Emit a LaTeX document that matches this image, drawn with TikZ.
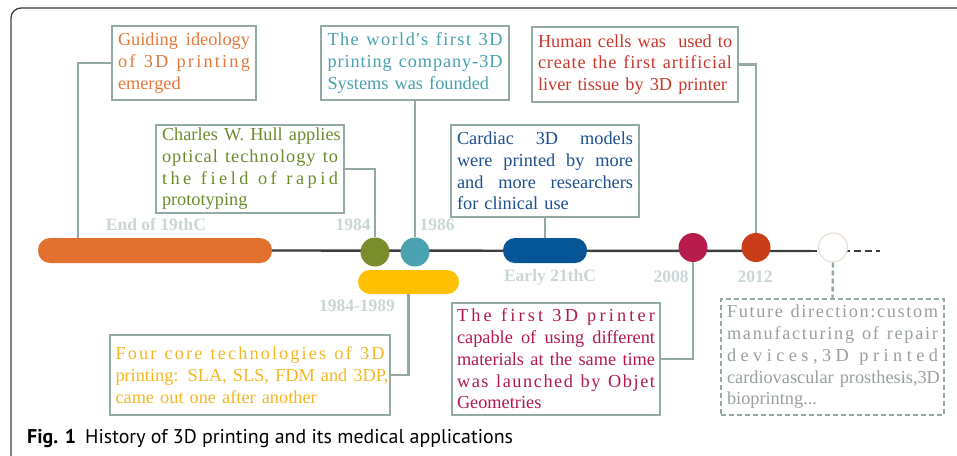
\documentclass[tikz,border=0pt]{standalone}
\usepackage{fontspec}
\setmainfont{Liberation Serif}
\newfontfamily\capfont{PT Sans}
\usetikzlibrary{calc,backgrounds}
\definecolor{boxc}{HTML}{93A9A4}
\definecolor{framec}{HTML}{3C3C3C}
\definecolor{lblc}{HTML}{CAD6D6}
\definecolor{orangeb}{HTML}{E2702E}
\definecolor{greenb}{HTML}{7A8C2C}
\definecolor{tealb}{HTML}{4BA2B0}
\definecolor{yellowb}{HTML}{FFC000}
\definecolor{blueb}{HTML}{065596}
\definecolor{magb}{HTML}{B71C4D}
\definecolor{redb}{HTML}{C83C17}
\definecolor{futc}{HTML}{EADBCF}
\definecolor{orangeT}{HTML}{E2783A}
\definecolor{greenT}{HTML}{6D8A2B}
\definecolor{tealT}{HTML}{47A0AE}
\definecolor{blueT}{HTML}{1D4F8E}
\definecolor{redT}{HTML}{C8382D}
\definecolor{yellowT}{HTML}{F4B722}
\definecolor{magT}{HTML}{B3174F}
\definecolor{grayT}{HTML}{98A09F}
\ExplSyntaxOn
\seq_new:N \l__rs_words_seq
\cs_new_protected:Npn \rs_spread:n #1
  {
    \seq_set_split:Nnn \l__rs_words_seq { ~ } {#1}
    \seq_map_indexed_inline:Nn \l__rs_words_seq
      {
        \int_compare:nNnT {##1} > {1} { \c_space_tl }
        \tl_map_inline:nn {##2} { ####1 \hfil }
      }
    \unskip
  }
\cs_new_protected:Npn \rs_words:n #1
  {
    \seq_set_split:Nnn \l__rs_words_seq { ~ } {#1}
    \seq_use:Nn \l__rs_words_seq { \c_space_tl \hfil }
  }
\NewDocumentCommand \lsline { m } { \noindent\makebox[\hsize][s]{ \rs_spread:n {#1} } }
\NewDocumentCommand \wdline { m } { \noindent\makebox[\hsize][s]{ \rs_words:n {#1} } }
\ExplSyntaxOff
\newcommand\boxfont{\fontsize{18.3}{21.7}\selectfont}
\newcommand\lblfont{\fontsize{17.5}{20}\selectfont\bfseries}
\begin{document}
\begin{tikzpicture}[x=1pt,y=-1pt,
  tbox/.style={draw=boxc, line width=2.8pt, inner sep=0pt, align=left, font=\boxfont},
  bar/.style={rounded corners=12pt, inner sep=0pt, minimum height=25pt},
  dot/.style={circle, minimum size=29pt, inner sep=0pt},
  lbl/.style={text=lblc, font=\lblfont, inner sep=0pt},
  conn/.style={draw=boxc, line width=2.6pt},
  tline/.style={draw=framec, line width=2.4pt}]
\useasboundingbox (0,0) rectangle (957,455);
% frame
\draw[framec, line width=1.3pt, rounded corners=10pt] (11,458) -- (11,8) -- (960,8);
% bars and dots
\node[bar, fill=orangeb, minimum width=234pt] (orange) at (155,250.5) {};
\node[bar, fill=yellowb, minimum width=101pt, minimum height=24pt] (yellow) at (408.5,282) {};
\node[bar, fill=blueb, minimum width=84pt] (blue) at (545,250.5) {};
\node[dot, fill=greenb] (green) at (375,252) {};
\node[dot, fill=tealb] (teal) at (415,252) {};
\node[dot, fill=magb] (mag) at (693,247.5) {};
\node[dot, fill=redb] (red) at (756,247.5) {};
\node[dot, draw=futc, line width=1pt, fill=white] (fut) at (833,247.5) {};
\coordinate (t1) at (810,251);
\coordinate (t2) at (880,251);
\begin{scope}[on background layer]
\draw[tline] (orange.east) -- (t1);
\draw[tline, dash pattern=on 7pt off 4pt] (t1) -- (t2);
\end{scope}
% date labels
\node[lbl] (l19) at (156,224) {End of 19thC};
\node[lbl] (l84) at (353,225) {1984};
\node[lbl] (l86) at (437,225) {1986};
\node[lbl] (l8489) at (357,306) {1984-1989};
\node[lbl] (l21) at (550,277) {Early 21thC};
\node[lbl] (l08) at (671,277) {2008};
\node[lbl] (l12) at (755,277) {2012};
% boxes
\node[tbox, text=orangeT, minimum width=144pt, minimum height=74pt, text width=132pt] (guide) at (184,63)
  {\wdline{Guiding ideology}\\\lsline{of 3D printing}\\emerged};
\node[tbox, text=greenT, minimum width=188pt, minimum height=88pt, text width=176pt] (charles) at (250,169)
  {\wdline{Charles W. Hull applies}\\\lsline{optical technology to}\\\lsline{the field of rapid}\\prototyping};
\node[tbox, text=tealT, minimum width=188pt, minimum height=74pt, text width=175pt] (world) at (415,63)
  {\lsline{The world\textquotesingle s first 3D}\\\lsline{printing company-3D}\\Systems was founded};
\node[tbox, text=blueT, minimum width=188pt, minimum height=92pt, text width=176pt] (cardiac) at (545,171)
  {\wdline{Cardiac 3D models}\\\wdline{were printed by more}\\\wdline{and more researchers}\\for clinical use};
\node[tbox, text=redT, minimum width=206pt, minimum height=75pt, text width=194pt] (human) at (635,64.5)
  {\wdline{Human cells was \ used to}\\\lsline{create the first artificial}\\liver tissue by 3D printer};
\node[tbox, text=yellowT, minimum width=280pt, minimum height=80pt, text width=269pt] (four) at (250,375)
  {\lsline{Four core technologies of 3D}\\\wdline{printing: SLA, SLS, FDM and 3DP,}\\came out one after another};
\node[tbox, text=magT, minimum width=208pt, minimum height=112pt, text width=198pt] (first) at (556,359)
  {\lsline{The first 3D printer}\\\wdline{capable of using different}\\\wdline{materials at the same time}\\\lsline{was launched by Objet}\\Geometries};
\node[tbox, text=grayT, dash pattern=on 5pt off 3pt, line width=2.4pt, minimum width=223pt, minimum height=116pt, text width=211pt] (future) at (832.5,357)
  {\lsline{Future direction:custom}\\\lsline{manufacturing of repair}\\\lsline{devices,3D printed}\\\wdline{cardiovascular prosthesis,3D}\\bioprintng...};
% connectors
\draw[conn] (guide.west) -| ($(orange.north west)+(40,0)$);
\draw[conn] (charles.east) -| (green.north);
\draw[conn] (world.south) -- (teal.north);
\draw[conn] (cardiac.south) -- (blue.north);
\draw[conn] (human.east) -| (red.north);
\draw[conn] (four.east) -| (yellow.south);
\draw[conn] (first.east) -| (mag.south);
\draw[conn, line width=2.4pt, dash pattern=on 5pt off 3pt] (fut.south) -- (future.north);
% caption
\node[anchor=base west, inner sep=0pt, font=\capfont\fontsize{19.9}{23}\selectfont] (cap) at (27,443)
  {\textbf{Fig. 1}\hspace{9pt}History of 3D printing and its medical applications};
\end{tikzpicture}
\end{document}
